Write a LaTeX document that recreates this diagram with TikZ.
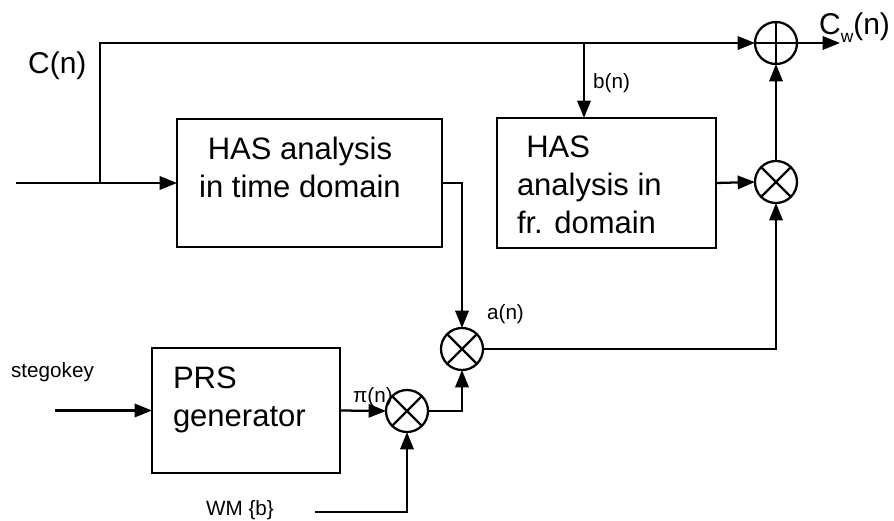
\documentclass[tikz,border=0pt]{standalone}
\usepackage{fontspec}
\setmainfont{Liberation Sans}
\usetikzlibrary{arrows.meta}
\begin{document}
\begin{tikzpicture}[x=0.75pt,y=-0.75pt,
  line width=1.7pt,
  arr/.style={-{Triangle[length=13pt,width=10pt]}},
  blk/.style={draw, rectangle, inner sep=0pt, outer sep=0pt},
  op/.style={draw, circle, minimum size=31.5pt, inner sep=0pt, outer sep=0pt},
  big/.style={font=\fontsize{23.25}{28.5}\selectfont, inner sep=0pt, outer sep=0pt},
  lbl/.style={font=\fontsize{22.5}{27}\selectfont, inner sep=0pt},
  sml/.style={font=\fontsize{15.5}{18}\selectfont, inner sep=0pt}]
\useasboundingbox (0,0) rectangle (894,521);
% blocks
\node[blk, minimum width=198.75pt, minimum height=96pt] (b1) at (309.5,183) {};
\node[blk, minimum width=164.25pt, minimum height=97.5pt] (b2) at (606.5,183) {};
\node[blk, minimum width=141pt, minimum height=93.75pt] (prs) at (246,410.5) {};
% block texts
\node[big, align=center, anchor=north] (t1) at (300,137) {HAS analysis\\in time domain};
\node[big, align=left, anchor=north west] (t2) at (517,136) {\hspace*{7pt}HAS\\analysis in\\fr. domain};
\node[big, align=left, anchor=north west] (t3) at (173,367) {PRS\\generator};
% operators
\node[op] (plus) at (776,43) {};
\node[op] (m2) at (776,182) {};
\node[op] (ma) at (462,349) {};
\node[op] (m3) at (407,411) {};
\draw (plus.north) -- (plus.south) (plus.west) -- (plus.east);
\foreach \o in {m2,ma,m3}{
  \draw (\o.north east) -- (\o.south west) (\o.north west) -- (\o.south east);
}
% coordinates
\coordinate (in) at (16,183);
\coordinate (br) at (100,183);
\coordinate (tl) at (100,43);
\coordinate (tap) at (584,43);
\coordinate (out) at (840,43);
\coordinate (key) at (55,410.5);
\coordinate (wm) at (315,512);
% connectors
\draw[arr] (in) -- (b1.west);
\draw[arr] (br) -- (tl) -- (plus.west);
\draw[arr] (tap) -- (tap |- b2.north);
\draw[arr] (plus.east) -- (out);
\draw[arr] (b2.east) -- (m2.west);
\draw[arr] (m2.north) -- (plus.south);
\draw[arr] (b1.east) -- (b1.east -| ma) -- (ma.north);
\draw[arr] (ma.east) -- (ma.east -| m2) -- (m2.south);
\draw[arr] (key) -- (prs.west);
\draw[arr] (prs.east) -- (m3.west);
\draw[arr] (wm) -- (wm -| m3) -- (m3.south);
\draw[arr] (m3.east) -- (m3.east -| ma) -- (ma.south);
% labels
\node[lbl, anchor=base west] (cn) at (27,73) {C(n)};
\node[lbl, anchor=base west] (cw) at (818,34) {C\raisebox{-6pt}{\fontsize{13}{13}\selectfont w}(n)};
\node[sml, anchor=base west] (bn) at (592,88) {b(n)};
\node[sml, anchor=base west] (an) at (486,319) {a(n)};
\node[sml, anchor=base west] (pn) at (352,402) {π(n)};
\node[sml, anchor=base west] (sk) at (10,377) {stegokey};
\node[sml, anchor=base west] (wmb) at (205,515) {WM \{b\}};
\end{tikzpicture}
\end{document}
